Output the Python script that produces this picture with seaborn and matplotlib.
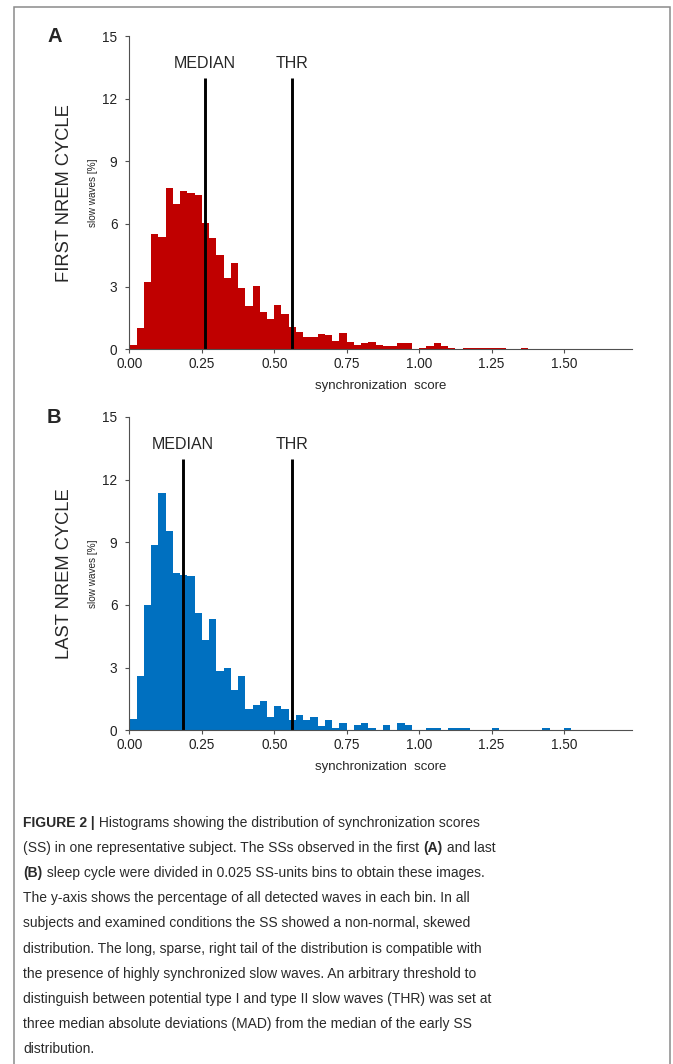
import numpy as np
import pandas as pd
import matplotlib
matplotlib.use('Agg')
import seaborn as sns
import matplotlib.pyplot as plt
from matplotlib import font_manager
from matplotlib.patches import Rectangle

sns.set_theme(style="ticks")
plt.rcParams['font.family'] = ['Liberation Sans', 'DejaVu Sans']

# percent of slow waves per 0.025 SS-unit bin, starting at 0
BIN = 0.025
first_cycle = [0.2, 1.0, 3.2, 5.5, 5.4, 7.72, 6.95, 7.59, 7.48, 7.40,
               6.04, 5.35, 4.52, 3.40, 4.12, 2.92, 2.08, 3.04, 1.80, 1.44,
               2.12, 1.69, 1.08, 0.82, 0.60, 0.60, 0.73, 0.68, 0.41, 0.80,
               0.35, 0.22, 0.28, 0.33, 0.20, 0.14, 0.14, 0.28, 0.28, 0.0,
               0.08, 0.18, 0.28, 0.16, 0.07, 0.0, 0.07, 0.07, 0.07, 0.07,
               0.07, 0.07, 0.0, 0.0, 0.07]
last_cycle = [0.52, 2.6, 5.98, 8.86, 11.34, 9.52, 7.55, 7.43, 7.40, 5.60,
              4.32, 5.32, 2.85, 2.99, 1.95, 2.59, 1.04, 1.20, 1.39, 0.64,
              1.17, 1.01, 0.48, 0.75, 0.50, 0.62, 0.22, 0.51, 0.11, 0.37,
              0.0, 0.24, 0.37, 0.11, 0.0, 0.24, 0.0, 0.37, 0.24, 0.0,
              0.0, 0.11, 0.11, 0.0, 0.11, 0.11, 0.11, 0.0, 0.0, 0.0,
              0.11, 0.0, 0.0, 0.0, 0.0, 0.0, 0.0, 0.11, 0.0, 0.0,
              0.11]
median_first = 0.26
median_last = 0.185
thr = 0.56
xticks = [0.0, 0.25, 0.5, 0.75, 1.0, 1.25, 1.5]
yticks = [0, 3, 6, 9, 12, 15]

caption = [
    [("FIGURE 2 |", True), (" Histograms showing the distribution of synchronization scores", False)],
    [("(SS) in one representative subject. The SSs observed in the first ", False), ("(A)", True), (" and last", False)],
    [("(B)", True), (" sleep cycle were divided in 0.025 SS-units bins to obtain these images.", False)],
    [("The y-axis shows the percentage of all detected waves in each bin. In all", False)],
    [("subjects and examined conditions the SS showed a non-normal, skewed", False)],
    [("distribution. The long, sparse, right tail of the distribution is compatible with", False)],
    [("the presence of highly synchronized slow waves. An arbitrary threshold to", False)],
    [("distinguish between potential type I and type II slow waves (THR) was set at", False)],
    [("three median absolute deviations (MAD) from the median of the early SS", False)],
    [("distribution.", False)],
]

W, H = 673, 1064
fig = plt.figure(figsize=(W / 100, H / 100), dpi=100)

spine_col = '#505050'


def panel(top_px, heights, color, median, letter, title):
    left, right, bottom = 129.3, 631.7, top_px + 313.3
    ax = fig.add_axes([left / W, 1 - bottom / H, (right - left) / W, 313.3 / H])
    n = len(heights)
    df = pd.DataFrame({"ss": (np.arange(n) + 0.5) * BIN, "pct": heights})
    sns.histplot(data=df, x="ss", weights="pct", binwidth=BIN,
                 binrange=(0, n * BIN), color=color, alpha=1, linewidth=0, ax=ax)
    ax.vlines([median, thr], 0, 13, color='black', lw=2.1)
    ax.text(median, 13.7, "MEDIAN", ha='center', va='center', fontsize=11.5)
    ax.text(thr, 13.7, "THR", ha='center', va='center', fontsize=11.5)
    ax.set_xlim(0, 1.733)
    ax.set_ylim(0, 15)
    ax.set_xticks(xticks)
    ax.set_xticklabels([f"{t:.2f}" for t in xticks])
    ax.set_yticks(yticks)
    ax.tick_params(axis='both', labelsize=9.8, length=3, width=0.8,
                   color=spine_col, labelcolor='#222222')
    ax.tick_params(axis='y', pad=5.5)
    ax.tick_params(axis='x', pad=2.5)
    sns.despine(ax=ax)
    for s in ('left', 'bottom'):
        ax.spines[s].set_color(spine_col)
        ax.spines[s].set_linewidth(0.8)
    ax.set_xlabel("synchronization  score", fontsize=9.5, labelpad=6.5)
    ax.set_ylabel("slow waves [%]", fontsize=7.2, labelpad=3)
    ax.text(-0.128, 0.5, title, transform=ax.transAxes, rotation=90,
            ha='center', va='center', fontsize=13.2)
    fig.text(47 / W, 1 - (top_px + 0.5) / H, letter, fontsize=14.5,
             fontweight='bold', ha='left', va='center')
    return ax


panel(36.0, first_cycle, '#C00000', median_first, 'A', 'FIRST NREM CYCLE')
panel(417.0, last_cycle, '#0070C0', median_last, 'B', 'LAST NREM CYCLE')

# figure frame
fig.add_artist(Rectangle((14 / W, -0.02), (670 - 14) / W, 1 - 7 / H + 0.02,
                         transform=fig.transFigure, fill=False,
                         ec='#8a8a8a', lw=1.1))

# caption
names = {f.name for f in font_manager.fontManager.ttflist}
if 'Liberation Sans Narrow' in names:
    cap_font, cap_size = 'Liberation Sans Narrow', 11.6
else:
    cap_font, cap_size = 'Liberation Sans', 10.0

cax = fig.add_axes([0, 0, 1, 1])
cax.set_axis_off()
y0 = 830.0
for i, line in enumerate(caption):
    y = 1 - (y0 + i * 25.1) / H
    prev = None
    for txt, bold in line:
        kw = dict(fontsize=cap_size, family=cap_font, color='#2a2a2a',
                  fontweight='bold' if bold else 'normal', va='bottom', ha='left')
        if prev is None:
            prev = cax.text(23.3 / W, y, txt, transform=fig.transFigure, **kw)
        else:
            prev = cax.annotate(txt, xy=(1, 0), xycoords=prev, **kw)

fig.savefig('out.png', dpi=100)
